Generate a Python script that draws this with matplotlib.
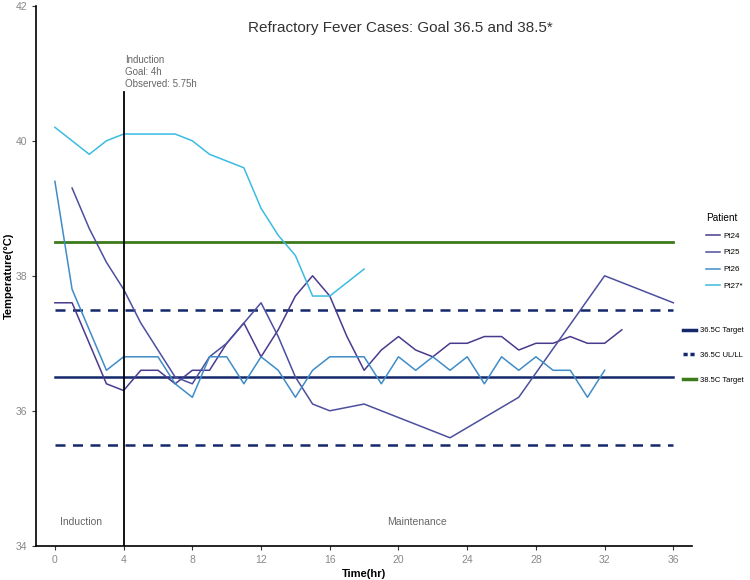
import matplotlib
matplotlib.use("Agg")
import matplotlib.pyplot as plt
from matplotlib.lines import Line2D

plt.rcParams['font.family'] = ['Liberation Sans', 'DejaVu Sans']

# patient temperature readings (hour, degC)
pt24_hr = [0, 1, 2, 3, 4, 5, 6, 7, 8, 9, 10, 11, 12, 13, 14, 15, 16, 17, 18, 19, 20,
           21, 22, 23, 24, 25, 26, 27, 28, 29, 30, 31, 32, 33]
pt24_temp = [37.6, 37.6, 37.0, 36.4, 36.3, 36.6, 36.6, 36.4, 36.6, 36.6, 37.0, 37.3, 36.8,
             37.2, 37.7, 38.0, 37.7, 37.1, 36.6, 36.9, 37.1, 36.9, 36.8, 37.0, 37.0, 37.1,
             37.1, 36.9, 37.0, 37.0, 37.1, 37.0, 37.0, 37.2]

pt25_hr = [1, 2, 3, 4, 5, 6, 7, 8, 9, 10, 11, 12, 13, 14, 15, 16, 18, 23, 27, 32, 36]
pt25_temp = [39.3, 38.7, 38.2, 37.8, 37.3, 36.9, 36.5, 36.4, 36.8, 37.0, 37.3, 37.6, 37.1,
             36.5, 36.1, 36.0, 36.1, 35.6, 36.2, 38.0, 37.6]

pt26_hr = list(range(0, 33))
pt26_temp = [39.4, 37.8, 37.2, 36.6, 36.8, 36.8, 36.8, 36.4, 36.2, 36.8, 36.8, 36.4, 36.8,
             36.6, 36.2, 36.6, 36.8, 36.8, 36.8, 36.4, 36.8, 36.6, 36.8, 36.6, 36.8, 36.4,
             36.8, 36.6, 36.8, 36.6, 36.6, 36.2, 36.6]

pt27_hr = list(range(0, 19))
pt27_temp = [40.2, 40.0, 39.8, 40.0, 40.1, 40.1, 40.1, 40.1, 40.0, 39.8, 39.7, 39.6, 39.0,
             38.6, 38.3, 37.7, 37.7, 37.9, 38.1]

target = 36.5
upper_lower = [37.5, 35.5]
high_target = 38.5
induction_end = 4
time_span = [0, 36]
x_ticks = [0, 4, 8, 12, 16, 20, 24, 28, 32, 36]
y_ticks = [34, 36, 38, 40, 42]

fig = plt.figure(figsize=(7.5, 5.8), dpi=100)
ax = fig.add_axes([0.048, 0.059, 0.875, 0.931])

gray = '#666666'
navy = '#14286b'
green = '#3d7a1c'

# reference lines
ax.plot(time_span, [target, target], color=navy, lw=1.8, zorder=1)
for v in upper_lower:
    ax.plot(time_span, [v, v], color=navy, lw=1.8, dashes=(4, 3), zorder=1)
ax.plot(time_span, [high_target, high_target], color=green, lw=2.0, zorder=1)

# patients
l24, = ax.plot(pt24_hr, pt24_temp, color='#4a3a8e', lw=1.1, label='Pt24')
l25, = ax.plot(pt25_hr, pt25_temp, color='#4d4f9e', lw=1.1, label='Pt25')
l26, = ax.plot(pt26_hr, pt26_temp, color='#3f8cc8', lw=1.1, label='Pt26')
l27, = ax.plot(pt27_hr, pt27_temp, color='#3bbbe2', lw=1.1, label='Pt27*')

# induction marker
ax.plot([induction_end, induction_end], [34, 40.72], color='black', lw=1.3)
ax.text(induction_end + 0.1, 40.76, 'Induction\nGoal: 4h\nObserved: 5.75h',
        fontsize=7, color=gray, va='bottom', ha='left', linespacing=1.3)
ax.text(1.5, 34.35, 'Induction', fontsize=7.5, color=gray, ha='center', va='center')
ax.text(21.1, 34.35, 'Maintenance', fontsize=7.5, color=gray, ha='center', va='center')

ax.set_xlim(-1.1, 37.1)
ax.set_ylim(34, 42)
ax.set_xticks(x_ticks)
ax.set_yticks(y_ticks)
ax.tick_params(labelsize=7.5, labelcolor='#888888', length=3, width=0.8, color='#333333')
for s in ['top', 'right']:
    ax.spines[s].set_visible(False)
for s in ['left', 'bottom']:
    ax.spines[s].set_linewidth(1.2)

ax.set_xlabel('Time(hr)', fontsize=8, fontweight='bold', labelpad=3)
ax.set_ylabel('Temperature(°C)', fontsize=8, fontweight='bold')
ax.yaxis.set_label_coords(-0.034, 0.5)

fig.text(0.534, 0.952, 'Refractory Fever Cases: Goal 36.5 and 38.5*',
         fontsize=11, color='#333333', ha='center', va='center')

leg1 = ax.legend(handles=[l24, l25, l26, l27], title='Patient', loc='upper left',
                 bbox_to_anchor=(1.021, 0.617), frameon=False, fontsize=5.8,
                 title_fontsize=7.2, handlelength=1.7, labelspacing=1.15,
                 handletextpad=0.4, borderaxespad=0, borderpad=0)
leg1._legend_box.align = 'left'
ax.add_artist(leg1)

ref_handles = [
    Line2D([], [], color=navy, lw=2.5),
    Line2D([], [], color=navy, lw=2.5, dashes=(1.2, 0.8)),
    Line2D([], [], color=green, lw=2.5),
]
ax.legend(ref_handles, ['36.5C Target', '36.5C UL/LL', '38.5C Target'],
          loc='upper left', bbox_to_anchor=(0.986, 0.405), frameon=False,
          fontsize=5.5, handlelength=1.7, labelspacing=2.25, handletextpad=0.5,
          borderaxespad=0, borderpad=0)

fig.savefig('out.png', dpi=100)
